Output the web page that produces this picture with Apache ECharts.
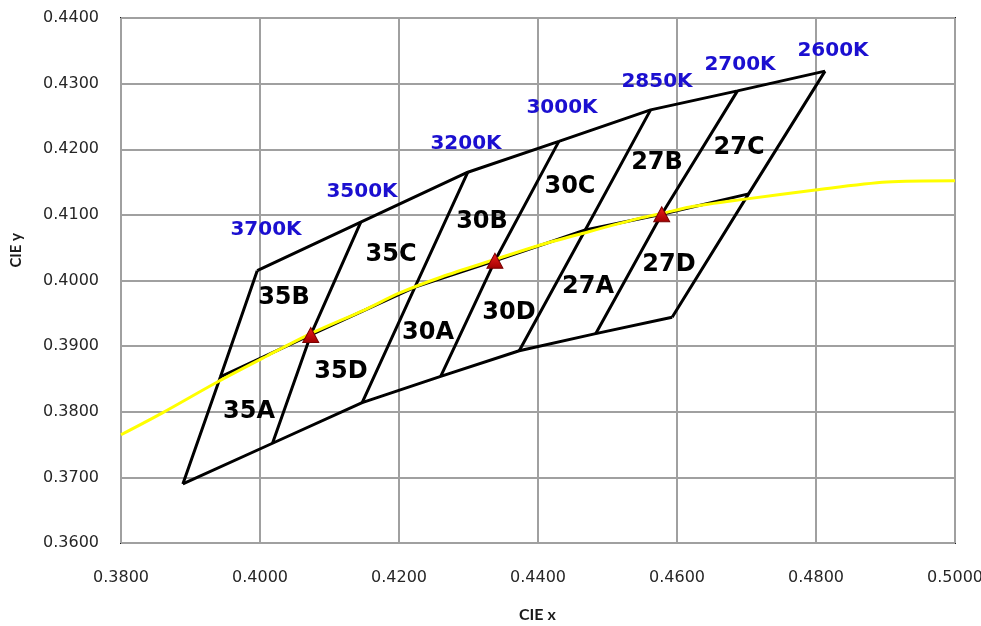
<!DOCTYPE html>
<html>
<head>
<meta charset="utf-8">
<title>ANSI chromaticity bins</title>
<script src="https://cdn.jsdelivr.net/npm/echarts@6/dist/echarts.min.js"></script>
<style>
  html, body { margin: 0; padding: 0; background: #ffffff; }
  #chart { width: 981px; height: 626px; }
</style>
</head>
<body>
<div id="chart"></div>
<script>
// Axis ranges and ticks
var xMin = 0.38, xMax = 0.50, xStep = 0.02;
var yMin = 0.36, yMax = 0.44, yStep = 0.01;

// Upper edge of the quadrangles (CCT corners)
var topX = [0.3996, 0.4145, 0.4299, 0.4430, 0.4562, 0.4687, 0.4813];
var topY = [0.4015, 0.4089, 0.4165, 0.4212, 0.4260, 0.4289, 0.4319];
// Lower edge of the quadrangles
var botX = [0.3889, 0.4018, 0.4147, 0.4260, 0.4373, 0.4483, 0.4593];
var botY = [0.3690, 0.3752, 0.3814, 0.3854, 0.3893, 0.3919, 0.3944];
// Middle divider (edge midpoints and bin centres)
var midX = [0.3943, 0.4073, 0.4223, 0.4338, 0.4468, 0.4578, 0.4703];
var midY = [0.3853, 0.3917, 0.3990, 0.4030, 0.4077, 0.4101, 0.4132];

// Nominal centre points (red triangles)
var centerX = [0.4073, 0.4338, 0.4578];
var centerY = [0.3917, 0.4030, 0.4101];

// Black-body locus
var locusX = [0.3800, 0.3859, 0.3938, 0.4010, 0.4073, 0.4150, 0.4201, 0.4260, 0.4338, 0.4400, 0.4465, 0.4547, 0.4578, 0.4619, 0.4698, 0.4799, 0.4902, 0.5000];
var locusY = [0.3765, 0.3798, 0.3845, 0.3885, 0.3919, 0.3955, 0.3981, 0.4005, 0.4032, 0.4053, 0.4072, 0.4095, 0.4102, 0.4112, 0.4124, 0.4138, 0.4150, 0.4152];

// CCT annotations
var cctNames = ['3700K', '3500K', '3200K', '3000K', '2850K', '2700K', '2600K'];
var cctX = [0.40086, 0.41468, 0.42964, 0.44345, 0.45712, 0.46906, 0.48245];
var cctY = [0.40770, 0.41349, 0.42080, 0.42629, 0.43025, 0.43284, 0.43497];

// Bin names
var binNames = ['35B', '35C', '30B', '30C', '27B', '27C', '35A', '35D', '30A', '30D', '27A', '27D'];
var binX = [0.40345, 0.41885, 0.43194, 0.44460, 0.45712, 0.46892, 0.39842, 0.41165, 0.42417, 0.43583, 0.44719, 0.45885];
var binY = [0.39733, 0.40389, 0.40891, 0.41425, 0.41790, 0.42019, 0.37996, 0.38606, 0.39200, 0.39505, 0.39901, 0.40236];

var xTitle = 'CIE x';
var yTitle = 'CIE y';

function pairs(xs, ys) {
  return xs.map(function (x, i) { return [x, ys[i]]; });
}

var edgeStyle = { color: '#000000', width: 3 };
var series = [];

function addLine(data) {
  series.push({
    type: 'line', data: data, symbol: 'none', silent: true,
    lineStyle: edgeStyle, z: 3, animation: false
  });
}

addLine(pairs(topX, topY));
addLine(pairs(botX, botY));
addLine(pairs(midX, midY));
for (var i = 0; i < topX.length; i++) {
  addLine([[botX[i], botY[i]], [midX[i], midY[i]], [topX[i], topY[i]]]);
}

series.push({
  type: 'line', data: pairs(locusX, locusY), symbol: 'none', smooth: 0.3,
  lineStyle: { color: '#ffff00', width: 3 }, z: 4, animation: false
});

series.push({
  type: 'scatter', data: pairs(centerX, centerY), symbol: 'triangle', symbolSize: [16, 15],
  itemStyle: {
    opacity: 1,
    color: new echarts.graphic.LinearGradient(0, 0, 0, 1, [
      { offset: 0, color: '#f02020' }, { offset: 1, color: '#a00000' }
    ]),
    borderColor: '#7a0000', borderWidth: 1
  },
  z: 6, animation: false
});

series.push({
  type: 'scatter', symbolSize: 0, z: 7, animation: false, silent: true,
  itemStyle: { opacity: 1 },
  data: cctNames.map(function (n, i) { return { name: n, value: [cctX[i], cctY[i]] }; }),
  label: {
    show: true, position: 'inside', formatter: '{b}', opacity: 1,
    color: '#1b0fd0', fontFamily: 'DejaVu Sans', fontWeight: 'bold', fontSize: 20
  }
});

series.push({
  type: 'scatter', symbolSize: 0, z: 7, animation: false, silent: true,
  itemStyle: { opacity: 1 },
  data: binNames.map(function (n, i) { return { name: n, value: [binX[i], binY[i]] }; }),
  label: {
    show: true, position: 'inside', formatter: '{b}', opacity: 1,
    color: '#000000', fontFamily: 'DejaVu Sans', fontWeight: 'bold', fontSize: 24
  }
});

var chart = echarts.init(document.getElementById('chart'), null, { renderer: 'canvas' });
chart.setOption({
  backgroundColor: '#ffffff',
  animation: false,
  grid: {
    left: 121, top: 18, right: 26, bottom: 83,
    containLabel: false,
    outerBounds: { left: -100, top: -100, right: -100, bottom: -100 },
    show: true, borderColor: '#1a1a1a', borderWidth: 2, backgroundColor: 'transparent'
  },
  xAxis: {
    type: 'value', min: xMin, max: xMax, interval: xStep,
    axisLine: { show: false, onZero: false }, axisTick: { show: false },
    axisLabel: {
      margin: 27, fontFamily: 'DejaVu Sans', fontSize: 16, color: '#262626',
      formatter: function (v) { return v.toFixed(4); }
    },
    splitLine: { show: true, lineStyle: { color: '#a0a0a0', width: 2 } }
  },
  yAxis: {
    type: 'value', min: yMin, max: yMax, interval: yStep,
    axisLine: { show: false, onZero: false }, axisTick: { show: false },
    axisLabel: {
      margin: 22, fontFamily: 'DejaVu Sans', fontSize: 16, color: '#262626',
      formatter: function (v) { return v.toFixed(4); }
    },
    splitLine: { show: true, lineStyle: { color: '#a0a0a0', width: 2 } }
  },
  graphic: [{
    type: 'text', left: 9, top: 233, rotation: Math.PI / 2,
    style: { text: yTitle, font: 'bold 15px Lato', fill: '#1a1a1a' }
  }, {
    type: 'text', left: 519, top: 607,
    style: { text: xTitle, font: 'bold 16px Lato', fill: '#1a1a1a' }
  }],
  series: series
});
</script>
</body>
</html>
